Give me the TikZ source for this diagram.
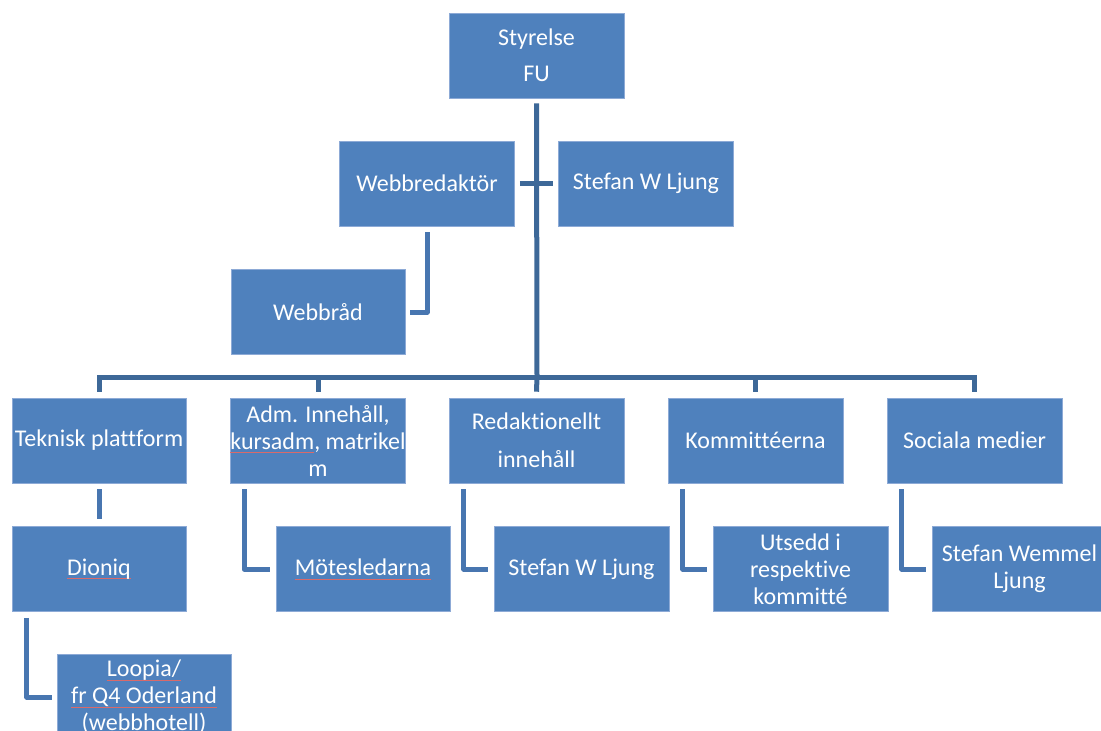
\documentclass[tikz,border=0pt]{standalone}
\usepackage{fontspec}
\setmainfont[Ligatures={NoCommon}]{Carlito}
\definecolor{boxblue}{HTML}{4F81BD}
\definecolor{boxedge}{HTML}{8DAAD6}
\definecolor{mainline}{HTML}{3D6898}
\definecolor{subline}{HTML}{4876B0}
\definecolor{spellred}{HTML}{D96A6A}
\newsavebox{\splbox}
\newcommand{\spl}[1]{\leavevmode\sbox{\splbox}{#1}\rlap{\color{spellred}\rule[-3.5pt]{\wd\splbox}{0.4pt}}#1}
\tikzset{
  orgbox/.style={draw=boxedge, line width=0.6pt, fill=boxblue, text=white,
    minimum width=175pt, minimum height=85pt, inner sep=0pt, align=center,
    font=\fontsize{24}{27}\selectfont},
  mainconn/.style={draw=mainline, line width=5pt},
  subconn/.style={draw=subline, line width=5pt, line join=round}
}
\begin{document}
\begin{tikzpicture}[x=1pt,y=-1pt]
\useasboundingbox (0,0) rectangle (1101,731);
\clip (0,0) rectangle (1101,731);
% top
\node[orgbox] (sty) at (536.5,55.5) {Styrelse\\[9pt]FU};
\node[orgbox] (web) at (427,183.5) {Webbredaktör};
\node[orgbox] (sw1) at (646,183.5) {Stefan W Ljung};
\node[orgbox, minimum width=174pt] (wr) at (318,312) {Webbråd};
% row
\node[orgbox, minimum width=174pt] (tek) at (99,440.5) {Teknisk plattform};
\node[orgbox, minimum width=174pt] (adm) at (318,440.5) {Adm. Innehåll,\\\spl{kursadm}, matrikel\\m};
\node[orgbox] (red) at (536.5,440.5) {Redaktionellt\\[11pt]innehåll};
\node[orgbox] (kom) at (755.5,440.5) {Kommittéerna};
\node[orgbox] (soc) at (974.5,440.5) {Sociala medier};
% sub row
\node[orgbox, minimum width=174pt] (dio) at (99,569) {\spl{Dioniq}};
\node[orgbox, minimum width=174pt] (mot) at (363,569) {\spl{Mötesledarna}};
\node[orgbox] (sw2) at (581.5,569) {Stefan W Ljung};
\node[orgbox] (uts) at (800.5,569) {Utsedd i\\respektive\\kommitté};
\node[orgbox] (swl) at (1019.5,569) {Stefan Wemmel\\Ljung};
\node[orgbox, minimum width=174pt] (loo) at (144,697) {\spl{Loopia/}\\\spl{fr Q4 Oderland}\\(\spl{webbhotell})};
% connectors
\coordinate (bar) at (537,377);
\draw[mainconn] ([yshift=-5pt]sty.south) -- (bar);
\draw[mainconn] ([yshift=6pt]tek.north) |- (bar);
\draw[mainconn] ([yshift=6pt]adm.north) |- (bar);
\draw[mainconn] ([yshift=6pt]red.north) -- (bar);
\draw[mainconn] ([yshift=6pt]kom.north) |- (bar);
\draw[mainconn] ([yshift=6pt]soc.north) |- (bar);
\draw[mainconn] ([xshift=5pt]web.east) -- ([xshift=-5pt]sw1.west);
\draw[subconn] ([yshift=-6pt]web.south) |- ([xshift=5pt]wr.east);
\draw[subconn] ([yshift=-6pt]tek.south) -- ([yshift=7pt]dio.north);
\draw[subconn] ([xshift=14pt,yshift=-6pt]adm.south west) |- ([xshift=-6pt]mot.west);
\draw[subconn] ([xshift=15pt,yshift=-6pt]red.south west) |- ([xshift=-6pt]sw2.west);
\draw[subconn] ([xshift=15pt,yshift=-6pt]kom.south west) |- ([xshift=-6pt]uts.west);
\draw[subconn] ([xshift=15pt,yshift=-6pt]soc.south west) |- ([xshift=-6pt]swl.west);
\draw[subconn] ([xshift=15pt,yshift=-6pt]dio.south west) |- ([xshift=-5pt]loo.west);
\end{tikzpicture}
\end{document}
